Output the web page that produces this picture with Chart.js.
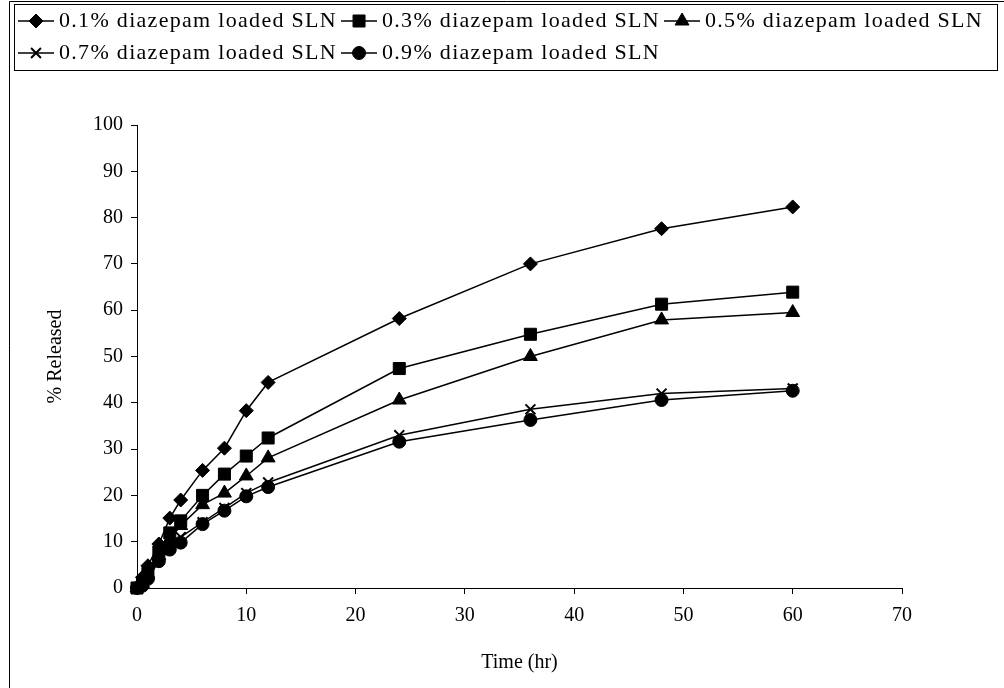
<!DOCTYPE html>
<html>
<head>
<meta charset="utf-8">
<script src="https://cdn.jsdelivr.net/npm/chart.js@4.4.0/dist/chart.umd.min.js"></script>
<style>
  html, body { margin: 0; padding: 0; background: #fff; }
</style>
</head>
<body>
<canvas id="graficaLiberacion" width="1004" height="688"></canvas>
<script>
// tiempos de muestreo (hr) y % liberado para cada formulacion
const tiempos = [0, 0.5, 1, 2, 3, 4, 6, 8, 10, 12, 24, 36, 48, 60];
const liberado01 = [0, 2.3, 4.8, 9.5, 15.1, 19.0, 25.4, 30.2, 38.3, 44.4, 58.2, 70.0, 77.6, 82.3];
const liberado03 = [0, 1.2, 3.2, 7.8, 11.9, 14.5, 20.0, 24.6, 28.5, 32.4, 47.4, 54.8, 61.3, 63.9];
const liberado05 = [0, 1.0, 3.0, 7.0, 10.5, 13.5, 18.0, 20.5, 24.2, 28.1, 40.6, 50.0, 57.9, 59.5];
const liberado07 = [0, 0.8, 2.5, 6.0, 9.0, 11.0, 14.2, 17.3, 20.5, 22.8, 33.0, 38.6, 42.0, 43.1];
const liberado09 = [0, 0.5, 2.0, 5.8, 8.3, 9.8, 13.8, 16.7, 19.8, 21.8, 31.6, 36.3, 40.6, 42.6];
const nombres = [
    '0.1% diazepam loaded SLN',
    '0.3% diazepam loaded SLN',
    '0.5% diazepam loaded SLN',
    '0.7% diazepam loaded SLN',
    '0.9% diazepam loaded SLN'
];
const ticksX = [0, 10, 20, 30, 40, 50, 60, 70];
const ticksY = [0, 10, 20, 30, 40, 50, 60, 70, 80, 90, 100];

const fuente = 'Liberation Serif, Times New Roman, serif';
const espaciado = '1.3px';
const margenIzq = 14;
const marcadores = [
    { estilo: 'rectRot', radio: 7, borde: 1 },
    { estilo: 'rect', radio: 8.5, borde: 1 },
    { estilo: 'triangle', radio: 8, borde: 1 },
    { estilo: 'crossRot', radio: 7, borde: 2 },
    { estilo: 'circle', radio: 6.5, borde: 1 }
];

// icono de leyenda: linea con el marcador en el centro
function iconoLeyenda(m) {
    const c = document.createElement('canvas');
    c.width = 36;
    c.height = 20;
    const g = c.getContext('2d');
    g.strokeStyle = '#000';
    g.fillStyle = '#000';
    g.lineWidth = 1.5;
    g.beginPath();
    g.moveTo(0, 10);
    g.lineTo(36, 10);
    g.stroke();
    g.lineWidth = m.borde;
    Chart.helpers.drawPoint(g, { pointStyle: m.estilo, radius: m.radio, rotation: 0, borderWidth: m.borde }, 18, 10);
    return c;
}

const valores = [liberado01, liberado03, liberado05, liberado07, liberado09];
const datasets = valores.map((serie, i) => ({
    label: nombres[i],
    data: serie.map((v, j) => ({ x: tiempos[j], y: v })),
    borderColor: '#000',
    borderWidth: 1.5,
    backgroundColor: '#000',
    pointStyle: marcadores[i].estilo,
    pointRadius: marcadores[i].radio,
    pointBorderWidth: marcadores[i].borde,
    pointBackgroundColor: '#000',
    pointBorderColor: '#000',
    tension: 0,
    clip: false
}));

const marcoPlugin = {
    id: 'marco',
    beforeLayout(chart) {
        const legend = chart.legend;
        if (!legend || legend._ajustado) return;
        legend._ajustado = true;
        const fitOriginal = legend.fit;
        const drawOriginal = legend.draw;
        legend.fit = function () {
            this.ctx.save();
            this.ctx.letterSpacing = espaciado;
            fitOriginal.call(this);
            this.ctx.restore();
            this.height = 125;
        };
        legend.draw = function () {
            this.ctx.save();
            this.ctx.letterSpacing = espaciado;
            drawOriginal.apply(this, arguments);
            this.ctx.restore();
        };
    },
    afterDraw(chart) {
        const ctx = chart.ctx;
        ctx.save();
        ctx.strokeStyle = '#000';
        ctx.lineWidth = 1;
        ctx.beginPath();
        ctx.moveTo(9.5, 700);
        ctx.lineTo(9.5, 1.5);
        ctx.lineTo(1010, 1.5);
        ctx.stroke();
        const cajas = chart.legend.legendHitBoxes;
        let arriba = Infinity, abajo = -Infinity;
        cajas.forEach(b => {
            arriba = Math.min(arriba, b.top);
            abajo = Math.max(abajo, b.top + b.height);
        });
        ctx.strokeRect(14.5, Math.round(arriba - 6) + 0.5, 983, Math.round(abajo - arriba + 12));
        ctx.restore();
    }
};

const ctx = document.getElementById('graficaLiberacion').getContext('2d');
const grafica = new Chart(ctx, {
    type: 'line',
    data: { datasets: datasets },
    options: {
        responsive: false,
        animation: false,
        layout: { padding: { left: margenIzq, right: 0, top: 0, bottom: 0 } },
        plugins: {
            legend: {
                display: true,
                position: 'top',
                align: 'start',
                labels: {
                    color: '#000',
                    font: { family: fuente, size: 22 },
                    usePointStyle: true,
                    pointStyleWidth: 24,
                    padding: 10,
                    generateLabels: function (chart) {
                        const items = Chart.defaults.plugins.legend.labels.generateLabels(chart);
                        items.forEach((it, i) => { it.pointStyle = iconoLeyenda(marcadores[i]); });
                        return items;
                    }
                }
            },
            tooltip: { enabled: false }
        },
        scales: {
            x: {
                type: 'linear',
                min: 0,
                max: 70,
                afterBuildTicks: s => { s.ticks = ticksX.map(v => ({ value: v })); },
                afterFit: s => { s.height = 100; },
                grid: { display: true, drawOnChartArea: false, tickLength: 6, color: '#000' },
                border: { display: true, color: '#000', width: 1 },
                ticks: { color: '#000', font: { family: fuente, size: 20 }, padding: 10, maxRotation: 0 },
                title: { display: true, text: 'Time (hr)', color: '#000', font: { family: fuente, size: 20 }, padding: { top: 0, bottom: 13 } }
            },
            y: {
                type: 'linear',
                min: 0,
                max: 100,
                afterBuildTicks: s => { s.ticks = ticksY.map(v => ({ value: v })); },
                afterFit: s => { s.width = 137 - margenIzq; },
                grid: { display: true, drawOnChartArea: false, tickLength: 6, color: '#000' },
                border: { display: true, color: '#000', width: 1 },
                ticks: { color: '#000', font: { family: fuente, size: 20 }, padding: 8 },
                title: { display: true, text: '% Released', color: '#000', font: { family: fuente, size: 20 }, padding: { top: 30, bottom: 0 } }
            },
            relleno: {
                type: 'linear',
                position: 'right',
                display: true,
                afterFit: s => { s.width = 1004 - 902; },
                grid: { display: false },
                border: { display: false },
                ticks: { display: false }
            }
        }
    },
    plugins: [marcoPlugin]
});
</script>
</body>
</html>
